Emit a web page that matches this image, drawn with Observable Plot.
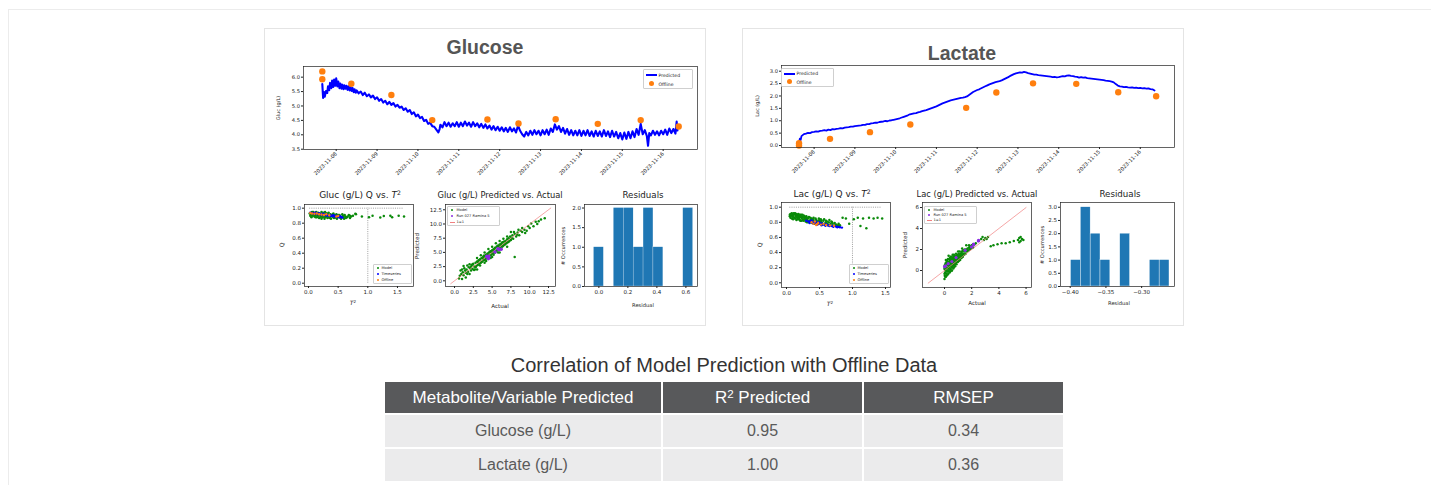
<!DOCTYPE html>
<html><head><meta charset="utf-8">
<script src="https://cdn.jsdelivr.net/npm/d3@7"></script>
<script src="https://cdn.jsdelivr.net/npm/@observablehq/plot@0.6"></script>
<style>
html,body{margin:0;padding:0;background:#fff;}
body{position:relative;width:1431px;height:485px;overflow:hidden;font-family:"Liberation Sans",Arial,sans-serif;}
#outer{position:absolute;left:8px;top:9px;width:1440px;height:500px;border-left:1.5px solid #ececec;border-top:1.5px solid #ececec;}
.panel{position:absolute;border:1px solid #e4e4e4;box-sizing:border-box;background:#fff;}
.t{position:absolute;white-space:nowrap;line-height:1;}
.lg{position:absolute;border:0.6px solid #cfcfcf;background:rgba(255,255,255,0.9);border-radius:1px;box-sizing:border-box;}
.cell{position:absolute;display:flex;align-items:center;justify-content:center;}
.cell span{white-space:nowrap;}
sup.s{font-size:0.68em;vertical-align:0.45em;line-height:0;}
</style></head><body>
<div id="outer"></div>
<div class="panel" style="left:264px;top:28px;width:442px;height:298px"></div>
<div class="panel" style="left:742px;top:28px;width:442px;height:298px"></div>
<script>
// ---------------- DATA ----------------
const dayTicks = [8, 9, 10, 11, 12, 13, 14, 15, 16];
// Glucose predicted time series [day of Nov 2023, g/L]
const gPred = [[7.66,5.76],[7.68,5.28],[7.70,5.48],[7.72,5.32],[7.75,5.52],[7.78,5.45],[7.80,5.68],[7.83,5.55],[7.85,5.80],[7.88,5.62],[7.90,5.88],[7.93,5.66],[7.95,5.92],[7.98,5.70],[8.00,5.96],[8.03,5.68],[8.05,5.85],[8.08,5.62],[8.10,5.78],[8.13,5.60],[8.15,5.74],[8.18,5.58],[8.20,5.72],[8.23,5.60],[8.25,5.70],[8.28,5.56],[8.30,5.68],[8.33,5.54],[8.35,5.66],[8.38,5.52],[8.40,5.62],[8.43,5.48],[8.45,5.58],[8.48,5.46],[8.50,5.54],[8.55,5.44],[8.60,5.50],[8.65,5.38],[8.70,5.46],[8.75,5.34],[8.80,5.40],[8.85,5.30],[8.90,5.36],[8.95,5.24],[9.00,5.30],[9.05,5.18],[9.10,5.24],[9.15,5.12],[9.20,5.18],[9.25,5.06],[9.30,5.14],[9.35,5.04],[9.40,5.10],[9.45,4.98],[9.50,5.04],[9.55,4.94],[9.60,4.98],[9.65,4.86],[9.70,4.92],[9.75,4.80],[9.80,4.86],[9.85,4.72],[9.90,4.78],[9.95,4.64],[10.00,4.70],[10.05,4.58],[10.10,4.62],[10.15,4.48],[10.20,4.52],[10.25,4.38],[10.30,4.42],[10.35,4.30],[10.40,4.28],[10.45,4.18],[10.50,4.08],[10.53,4.20],[10.55,4.35],[10.60,4.26],[10.65,4.44],[10.70,4.30],[10.75,4.42],[10.80,4.28],[10.85,4.40],[10.90,4.30],[10.95,4.44],[11.00,4.28],[11.05,4.42],[11.10,4.30],[11.15,4.46],[11.20,4.32],[11.25,4.42],[11.30,4.28],[11.35,4.44],[11.40,4.30],[11.45,4.40],[11.50,4.26],[11.55,4.38],[11.60,4.24],[11.65,4.36],[11.70,4.22],[11.75,4.32],[11.80,4.18],[11.85,4.30],[11.90,4.16],[11.95,4.28],[12.00,4.14],[12.05,4.26],[12.10,4.12],[12.15,4.24],[12.20,4.10],[12.25,4.26],[12.30,4.12],[12.35,4.22],[12.40,4.08],[12.45,4.32],[12.50,4.14],[12.55,4.02],[12.60,3.94],[12.65,4.10],[12.70,3.98],[12.75,4.14],[12.80,4.00],[12.85,4.16],[12.90,4.02],[12.95,4.14],[13.00,3.98],[13.05,4.16],[13.10,4.02],[13.15,4.18],[13.20,4.00],[13.25,4.22],[13.30,4.10],[13.35,4.36],[13.40,4.18],[13.45,4.30],[13.50,4.10],[13.55,4.24],[13.60,4.04],[13.65,4.20],[13.70,4.00],[13.75,4.16],[13.80,3.98],[13.85,4.14],[13.90,3.98],[13.95,4.16],[14.00,3.96],[14.05,4.14],[14.10,3.98],[14.15,4.16],[14.20,3.96],[14.25,4.12],[14.30,3.94],[14.35,4.14],[14.40,3.96],[14.45,4.12],[14.50,3.94],[14.55,4.16],[14.60,3.96],[14.65,4.12],[14.70,3.92],[14.75,4.14],[14.80,3.94],[14.85,4.10],[14.90,3.88],[14.95,4.06],[15.00,3.84],[15.05,4.08],[15.10,3.86],[15.15,4.10],[15.20,3.88],[15.25,4.12],[15.30,3.92],[15.35,4.20],[15.40,4.00],[15.45,4.38],[15.50,4.02],[15.55,4.16],[15.60,3.96],[15.63,3.62],[15.66,4.06],[15.70,3.98],[15.75,4.14],[15.80,4.00],[15.85,4.12],[15.90,3.98],[15.95,4.14],[16.00,4.02],[16.05,4.18],[16.10,4.00],[16.15,4.22],[16.20,4.06],[16.25,4.20],[16.30,4.04],[16.33,4.46],[16.35,4.15]];
const gOffT = [7.66, 7.66, 8.37, 9.35, 10.35, 11.70, 12.46, 13.37, 14.40, 15.45, 16.38];
const gOffV = [6.20, 5.93, 5.77, 5.38, 4.51, 4.53, 4.39, 4.54, 4.38, 4.51, 4.29];
const gRes  = [0.65, 0.41, 0.12, 0.32, 0.22, 0.27, 0.19, 0.35, 0.15, 0.60, -0.034];

// Lactate predicted time series
const lPred = [[7.63,0.12],[7.65,0.28],[7.67,0.22],[7.69,0.38],[7.72,0.42],[7.75,0.46],[7.80,0.48],[7.85,0.51],[7.90,0.50],[7.95,0.54],[8.00,0.55],[8.05,0.57],[8.10,0.56],[8.15,0.59],[8.20,0.60],[8.25,0.62],[8.30,0.60],[8.35,0.64],[8.40,0.62],[8.45,0.66],[8.50,0.65],[8.55,0.67],[8.60,0.68],[8.65,0.70],[8.70,0.69],[8.75,0.72],[8.80,0.73],[8.85,0.74],[8.90,0.76],[8.95,0.76],[9.00,0.78],[9.05,0.79],[9.10,0.80],[9.15,0.81],[9.20,0.83],[9.25,0.83],[9.30,0.86],[9.35,0.86],[9.40,0.89],[9.45,0.90],[9.50,0.92],[9.55,0.92],[9.60,0.95],[9.65,0.96],[9.70,0.97],[9.75,0.99],[9.80,0.98],[9.85,1.01],[9.90,1.02],[9.95,1.04],[10.00,1.06],[10.05,1.08],[10.10,1.10],[10.15,1.13],[10.20,1.16],[10.25,1.19],[10.30,1.22],[10.35,1.26],[10.40,1.28],[10.45,1.30],[10.50,1.31],[10.55,1.34],[10.60,1.36],[10.65,1.39],[10.70,1.41],[10.75,1.43],[10.80,1.46],[10.85,1.49],[10.90,1.52],[10.95,1.55],[11.00,1.58],[11.05,1.62],[11.10,1.66],[11.15,1.70],[11.20,1.73],[11.25,1.76],[11.30,1.79],[11.35,1.82],[11.40,1.84],[11.45,1.86],[11.50,1.88],[11.55,1.90],[11.60,1.92],[11.65,1.93],[11.70,1.95],[11.75,1.98],[11.80,2.04],[11.85,2.10],[11.90,2.16],[11.95,2.20],[12.00,2.24],[12.05,2.27],[12.10,2.31],[12.15,2.35],[12.20,2.39],[12.25,2.43],[12.30,2.47],[12.35,2.50],[12.40,2.53],[12.45,2.56],[12.50,2.58],[12.55,2.60],[12.60,2.63],[12.65,2.67],[12.70,2.71],[12.75,2.75],[12.80,2.80],[12.85,2.84],[12.90,2.88],[12.95,2.91],[13.00,2.93],[13.05,2.95],[13.10,2.94],[13.15,2.97],[13.20,2.95],[13.25,2.92],[13.30,2.90],[13.35,2.88],[13.40,2.86],[13.45,2.86],[13.50,2.84],[13.55,2.83],[13.60,2.82],[13.65,2.81],[13.70,2.80],[13.75,2.79],[13.80,2.78],[13.85,2.76],[13.90,2.77],[13.95,2.75],[14.00,2.76],[14.05,2.78],[14.10,2.80],[14.15,2.79],[14.20,2.82],[14.25,2.83],[14.30,2.81],[14.35,2.80],[14.40,2.78],[14.45,2.77],[14.50,2.74],[14.55,2.76],[14.60,2.74],[14.65,2.75],[14.70,2.72],[14.75,2.71],[14.80,2.70],[14.85,2.69],[14.90,2.68],[14.95,2.67],[15.00,2.66],[15.05,2.65],[15.10,2.64],[15.15,2.62],[15.20,2.61],[15.25,2.60],[15.30,2.58],[15.35,2.55],[15.40,2.48],[15.45,2.42],[15.50,2.39],[15.55,2.38],[15.60,2.36],[15.65,2.37],[15.70,2.35],[15.75,2.34],[15.80,2.35],[15.85,2.33],[15.90,2.34],[15.95,2.32],[16.00,2.33],[16.05,2.31],[16.10,2.32],[16.15,2.30],[16.20,2.31],[16.25,2.28],[16.30,2.27],[16.35,2.22]];
const lOffT = [7.63, 7.63, 8.39, 9.37, 10.36, 11.73, 12.47, 13.37, 14.43, 15.46, 16.39];
const lOffV = [0.09, 0.00, 0.27, 0.54, 0.85, 1.52, 2.14, 2.51, 2.49, 2.15, 1.99];
const lRes  = [-0.350, -0.362, -0.378, -0.320, -0.382, -0.399, -0.374, -0.367, -0.325, -0.282, -0.261];

// Q vs T^2 [T2, Q]
const gQModel = [[0.02,0.93],[0.04,0.91],[0.05,0.94],[0.07,0.90],[0.08,0.92],[0.10,0.89],[0.11,0.93],[0.12,0.91],[0.14,0.88],[0.15,0.92],[0.17,0.90],[0.18,0.87],[0.20,0.91],[0.21,0.89],[0.23,0.93],[0.24,0.88],[0.26,0.90],[0.27,0.86],[0.29,0.92],[0.30,0.89],[0.32,0.87],[0.33,0.91],[0.35,0.88],[0.36,0.90],[0.38,0.86],[0.40,0.89],[0.41,0.92],[0.43,0.87],[0.45,0.90],[0.46,0.88],[0.48,0.86],[0.50,0.89],[0.52,0.91],[0.54,0.87],[0.56,0.88],[0.58,0.90],[0.60,0.86],[0.62,0.89],[0.65,0.88],[0.68,0.91],[0.72,0.89],[0.75,0.90],[0.80,0.92],[0.06,0.95],[0.09,0.94],[0.13,0.95],[0.16,0.94],[0.19,0.93],[0.22,0.95],[0.25,0.94],[0.28,0.95],[0.31,0.93],[0.34,0.94],[0.37,0.92],[0.42,0.93],[0.47,0.92],[0.53,0.90],[0.57,0.92],[0.63,0.87],[0.70,0.90],[0.79,0.925],[0.90,0.89],[1.02,0.88],[1.08,0.90],[1.21,0.875],[1.27,0.895],[1.38,0.90],[1.41,0.88],[1.52,0.90],[1.61,0.89],[0.03,0.90],[0.05,0.88],[0.08,0.95],[0.10,0.91],[0.12,0.88],[0.15,0.90],[0.18,0.92],[0.20,0.88],[0.22,0.86],[0.25,0.91],[0.28,0.88],[0.30,0.93],[0.33,0.88],[0.36,0.87],[0.39,0.90],[0.42,0.88],[0.44,0.91],[0.47,0.87],[0.50,0.91],[0.53,0.88],[0.55,0.86],[0.59,0.88],[0.61,0.91],[0.66,0.89],[0.70,0.87]];
const gQTime = [[0.03,0.94],[0.05,0.935],[0.07,0.93],[0.09,0.935],[0.11,0.93],[0.13,0.925],[0.15,0.93],[0.17,0.92],[0.19,0.925],[0.21,0.915],[0.23,0.92],[0.25,0.91],[0.27,0.915],[0.29,0.905],[0.31,0.91],[0.33,0.90],[0.35,0.905],[0.37,0.90],[0.39,0.895],[0.41,0.90],[0.43,0.89],[0.45,0.895],[0.47,0.885],[0.49,0.89],[0.51,0.88],[0.53,0.885],[0.55,0.88],[0.57,0.875],[0.12,0.94],[0.18,0.93],[0.24,0.925],[0.30,0.92],[0.36,0.91],[0.42,0.905],[0.48,0.90],[0.54,0.89]];
const gQOff = [[0.03,0.935],[0.06,0.93],[0.10,0.925],[0.14,0.93],[0.18,0.92],[0.22,0.915],[0.26,0.91],[0.30,0.92],[0.35,0.905],[0.47,0.89],[0.50,0.895]];
const lQModel = [[0.05,0.90],[0.06,0.86],[0.08,0.92],[0.09,0.88],[0.10,0.84],[0.11,0.90],[0.12,0.86],[0.13,0.92],[0.14,0.88],[0.15,0.83],[0.16,0.90],[0.17,0.86],[0.18,0.91],[0.19,0.84],[0.20,0.88],[0.21,0.82],[0.22,0.90],[0.23,0.85],[0.24,0.87],[0.25,0.83],[0.26,0.89],[0.27,0.84],[0.28,0.86],[0.29,0.81],[0.30,0.88],[0.31,0.83],[0.32,0.85],[0.33,0.80],[0.34,0.87],[0.35,0.82],[0.37,0.84],[0.39,0.79],[0.41,0.86],[0.43,0.81],[0.45,0.83],[0.47,0.78],[0.49,0.85],[0.51,0.80],[0.53,0.82],[0.55,0.77],[0.57,0.84],[0.59,0.79],[0.61,0.81],[0.63,0.76],[0.65,0.83],[0.67,0.78],[0.69,0.80],[0.71,0.75],[0.73,0.79],[0.75,0.77],[0.77,0.74],[0.79,0.78],[0.81,0.76],[0.07,0.89],[0.12,0.91],[0.17,0.89],[0.22,0.87],[0.27,0.88],[0.36,0.86],[0.44,0.85],[0.52,0.84],[0.60,0.82],[0.68,0.81],[0.85,0.86],[0.90,0.85],[0.95,0.78],[1.02,0.84],[1.08,0.86],[1.12,0.75],[1.16,0.85],[1.21,0.72],[1.25,0.86],[1.32,0.85],[1.38,0.86],[1.45,0.85],[0.05,0.88],[0.06,0.91],[0.08,0.85],[0.09,0.90],[0.10,0.87],[0.11,0.92],[0.13,0.85],[0.14,0.90],[0.15,0.87],[0.16,0.84],[0.18,0.88],[0.19,0.86],[0.20,0.83],[0.21,0.89],[0.23,0.82],[0.24,0.90],[0.25,0.86],[0.26,0.82],[0.28,0.84],[0.29,0.87],[0.30,0.84],[0.31,0.80],[0.33,0.86],[0.34,0.82],[0.36,0.80],[0.38,0.85],[0.40,0.82],[0.42,0.78],[0.44,0.83],[0.46,0.80],[0.48,0.82],[0.50,0.78],[0.52,0.81],[0.54,0.79],[0.56,0.82],[0.58,0.77],[0.60,0.80],[0.62,0.78],[0.64,0.80],[0.66,0.76],[0.70,0.78],[0.74,0.76],[0.78,0.76],[0.80,0.74],[0.10,0.91],[0.15,0.91],[0.20,0.90],[0.30,0.86],[0.40,0.84],[0.50,0.83]];
const lQTime = [[0.30,0.82],[0.33,0.81],[0.36,0.815],[0.39,0.80],[0.42,0.805],[0.45,0.79],[0.48,0.795],[0.51,0.78],[0.54,0.785],[0.57,0.77],[0.60,0.775],[0.63,0.76],[0.66,0.765],[0.69,0.75],[0.72,0.755],[0.75,0.745],[0.78,0.74],[0.81,0.735],[0.84,0.73],[0.35,0.79],[0.41,0.78],[0.47,0.77],[0.53,0.76],[0.59,0.755],[0.65,0.75],[0.71,0.74],[0.77,0.735],[0.38,0.825],[0.44,0.81],[0.50,0.80]];
const lQOff = [[0.38,0.80],[0.41,0.78],[0.43,0.81],[0.46,0.775],[0.48,0.79],[0.52,0.77],[0.56,0.78],[0.60,0.765],[0.66,0.76],[0.72,0.755],[0.45,0.765]];
const qLimit = [1.0], t2Limit = [1.0];

// Predicted vs actual [actual, predicted]
const gPAModel = [[0.6,0.4],[0.8,1.8],[1.0,0.3],[1.0,2.0],[1.2,1.0],[1.3,2.2],[1.5,0.6],[1.5,1.4],[1.6,2.0],[1.8,1.6],[1.9,2.4],[2.0,1.2],[2.0,2.9],[2.1,2.2],[2.2,1.8],[2.3,2.8],[2.4,2.1],[2.5,3.0],[2.6,2.5],[2.7,2.0],[2.8,3.2],[2.9,2.6],[3.0,2.0],[3.0,3.4],[3.0,4.0],[3.1,2.8],[3.2,3.6],[3.3,3.0],[3.4,3.8],[3.5,3.2],[3.5,4.5],[3.6,4.0],[3.7,3.4],[3.8,4.2],[3.9,3.6],[4.0,3.2],[4.0,4.4],[4.0,5.0],[4.1,3.8],[4.2,4.6],[4.3,4.0],[4.4,4.8],[4.5,4.2],[4.5,5.6],[4.6,5.0],[4.7,4.4],[4.8,5.2],[4.9,4.6],[5.0,4.2],[5.0,5.4],[5.0,6.0],[5.1,4.8],[5.2,5.6],[5.3,5.0],[5.4,5.8],[5.5,5.2],[5.5,6.6],[5.6,6.0],[5.7,5.4],[5.8,6.2],[5.9,5.6],[6.0,5.0],[6.0,6.4],[6.0,7.0],[6.1,5.8],[6.2,6.5],[6.3,6.0],[6.4,6.8],[6.5,6.2],[6.5,7.4],[6.6,6.9],[6.7,6.4],[6.8,7.0],[6.9,6.6],[7.0,6.0],[7.0,7.3],[7.1,6.8],[7.2,7.5],[7.3,7.0],[7.4,7.8],[7.5,7.2],[7.5,8.6],[7.7,8.0],[7.8,7.4],[8.0,4.2],[8.0,8.3],[8.2,7.8],[8.4,8.5],[8.6,8.0],[8.8,8.8],[9.0,8.6],[9.3,9.0],[9.6,8.8],[10.0,9.3],[10.5,9.6],[11.0,10.0],[11.5,10.8],[12.0,11.0],[1.1,1.5],[1.4,1.8],[1.7,1.2],[2.2,2.5],[2.4,2.9],[2.6,1.9],[2.8,2.4],[3.1,3.3],[3.3,3.6],[3.4,2.7],[3.6,3.3],[3.8,3.9],[3.9,4.4],[4.1,4.2],[4.2,3.5],[4.3,4.6],[4.4,4.1],[4.6,4.6],[4.7,5.1],[4.8,4.0],[4.9,5.0],[5.1,5.3],[5.2,4.6],[5.3,5.6],[5.4,5.0],[5.6,5.4],[5.7,6.1],[5.8,5.0],[5.9,6.0],[6.1,6.3],[6.2,5.6],[6.3,6.7],[6.4,6.1],[6.6,6.4],[6.8,6.6],[7.0,7.8],[7.2,6.9],[7.6,7.6],[7.9,8.6],[8.3,8.1],[8.5,9.0],[9.0,9.3],[9.4,8.4],[9.8,9.6],[10.2,10.1],[10.8,10.4],[11.2,10.5],[0.9,1.2],[1.2,2.6],[1.7,2.7],[0.7,0.9]];
const lPAModel = [[0.0,-0.8],[0.02,-0.5],[0.05,-0.2],[0.03,0.1],[0.06,0.4],[0.08,0.7],[0.1,-0.6],[0.12,-0.3],[0.15,0.0],[0.14,0.3],[0.18,0.6],[0.2,0.9],[0.22,-0.4],[0.25,-0.1],[0.28,0.2],[0.3,0.5],[0.32,0.8],[0.35,1.1],[0.38,-0.2],[0.4,0.1],[0.42,0.4],[0.45,0.7],[0.48,1.0],[0.5,1.3],[0.52,0.0],[0.55,0.3],[0.58,0.6],[0.6,0.9],[0.62,1.2],[0.65,0.2],[0.68,0.5],[0.7,0.8],[0.72,1.1],[0.75,1.4],[0.78,0.4],[0.8,0.7],[0.82,1.0],[0.85,1.3],[0.88,0.6],[0.9,0.9],[0.92,1.2],[0.95,1.5],[0.98,0.8],[1.0,1.1],[1.02,1.4],[1.05,0.9],[1.08,1.2],[1.1,1.5],[1.12,1.8],[1.15,1.0],[1.18,1.3],[1.2,1.6],[1.25,1.2],[1.28,1.5],[1.3,1.8],[1.35,1.3],[1.38,1.6],[1.4,1.9],[1.45,1.5],[1.5,1.8],[1.55,1.6],[1.6,2.0],[1.65,1.8],[1.7,2.1],[1.75,1.9],[1.8,2.2],[1.85,2.0],[1.9,2.3],[1.95,2.1],[2.0,2.4],[2.1,2.2],[2.2,2.5],[0.1,1.0],[0.3,1.4],[0.6,1.5],[1.0,1.8],[1.3,2.1],[1.6,2.4],[2.3,2.6],[2.5,2.8],[2.7,3.0],[2.8,3.2],[2.9,2.9],[3.0,3.1],[3.1,3.0],[3.2,3.2],[3.4,2.3],[3.6,2.4],[3.9,2.5],[4.2,2.6],[4.5,2.6],[4.8,2.7],[5.1,2.8],[5.4,2.9],[5.5,3.1],[5.6,2.8],[5.7,3.0],[5.8,2.9],[5.6,3.2],[5.5,2.7],[0.0,-0.3],[0.0,0.2],[0.02,0.5],[0.05,-0.6],[0.08,0.0],[0.1,0.3],[0.12,0.6],[0.15,-0.5],[0.18,-0.1],[0.2,0.2],[0.22,0.5],[0.25,0.8],[0.28,-0.3],[0.3,0.0],[0.32,0.3],[0.35,0.6],[0.38,0.9],[0.4,1.2],[0.42,-0.1],[0.45,0.2],[0.48,0.5],[0.5,0.8],[0.52,1.1],[0.55,0.0],[0.58,0.4],[0.6,0.7],[0.62,1.0],[0.65,1.3],[0.68,0.3],[0.7,0.6],[0.72,0.9],[0.75,1.2],[0.78,0.6],[0.8,1.0],[0.82,1.3],[0.85,0.8],[0.88,1.1],[0.9,1.4],[0.95,1.0],[1.0,1.3],[1.05,1.6],[1.1,1.1],[1.15,1.4],[1.2,1.3],[1.25,1.7],[1.3,1.5],[1.35,1.9],[1.4,1.6],[1.5,2.0],[1.55,1.9],[1.7,1.9],[1.8,2.4],[1.9,2.1],[2.0,2.2],[2.1,2.5],[0.15,0.8],[0.25,1.1],[0.45,1.3],[0.7,1.5],[0.85,1.6]];
const gOneToOne = [-0.5, 12.8];
const lOneToOne = [-1.2, 6.0];

// Table
const tableTitle = "Correlation of Model Prediction with Offline Data";
const tableHeader = ["Metabolite/Variable Predicted", "R<sup class='s'>2</sup> Predicted", "RMSEP"];
const tableMetabolites = ["Glucose (g/L)", "Lactate (g/L)"];
const tableR2 = ["0.95", "1.00"];
const tableRMSEP = ["0.34", "0.36"];

// ---------------- HELPERS ----------------
const BLUE = "#0000ff", ORANGE = "#ff7f0e", GREEN = "#0a8a0a", PURPLE = "#8a2be2", HIST = "#1f77b4";
const f1 = d3.format(".1f");
function chart(fr, m, xs, ys, marks, fs) {
  const [x0, y0, x1, y1] = fr;
  const svg = Plot.plot({
    width: x1 - x0 + m[0] + m[1], height: y1 - y0 + m[2] + m[3],
    marginLeft: m[0], marginRight: m[1], marginTop: m[2], marginBottom: m[3],
    style: {fontFamily: "DejaVu Sans", fontSize: fs + "px", color: "#222", background: "transparent", overflow: "visible"},
    x: Object.assign({label: null, tickSize: 2, tickPadding: 1.5}, xs),
    y: Object.assign({label: null, tickSize: 2, tickPadding: 1.5}, ys),
    marks: [...marks, Plot.frame({stroke: "#222", strokeWidth: 0.7})]
  });
  svg.style.position = "absolute";
  svg.style.left = (x0 - m[0]) + "px";
  svg.style.top = (y0 - m[2]) + "px";
  document.body.appendChild(svg);
}
function txt(html, x, y, o = {}) {
  const d = document.createElement("div");
  d.className = "t";
  d.innerHTML = html;
  d.style.left = x + "px"; d.style.top = y + "px";
  d.style.transform = "translate(-50%,-50%)" + (o.rot ? ` rotate(${o.rot}deg)` : "");
  d.style.font = `${o.w || "normal"} ${o.size || 5}px ${o.font || "'DejaVu Sans'"}`;
  d.style.color = o.c || "#222";
  document.body.appendChild(d);
}
function legend(x, y, w, h, rows, fs) {
  const box = document.createElement("div");
  box.className = "lg";
  box.style.cssText += `left:${x}px;top:${y}px;width:${w}px;height:${h}px;`;
  document.body.appendChild(box);
  const n = rows.length, step = (h - 2) / n;
  rows.forEach((r, i) => {
    const cy = y + 1 + step * (i + 0.5);
    const sw = document.createElement("div");
    sw.style.position = "absolute";
    if (r.type === "line") {
      sw.style.cssText += `left:${x + 2.5}px;top:${Math.round(cy - r.lw / 2)}px;width:${r.len}px;height:${r.lw}px;background:${r.c};`;
    } else {
      sw.style.cssText += `left:${x + 2.5 + r.len / 2 - r.s / 2}px;top:${cy - r.s / 2}px;width:${r.s}px;height:${r.s}px;border-radius:50%;background:${r.c};`;
    }
    document.body.appendChild(sw);
    const t = document.createElement("div");
    t.className = "t";
    t.textContent = r.label;
    t.style.cssText += `left:${x + 4.5 + r.len}px;top:${cy}px;transform:translateY(-50%);font:${fs}px 'DejaVu Sans';color:#222;`;
    document.body.appendChild(t);
  });
}
function hist(vals) {
  const ext = d3.extent(vals), w = (ext[1] - ext[0]) / 10;
  return d3.bin().domain(ext).thresholds(d3.range(1, 10).map(i => ext[0] + i * w))(vals);
}
const px = d => d[0], py = d => d[1];
const dateFmt = d => `2023-11-${String(d).padStart(2, "0")}`;

// ---------------- TOP TIME SERIES ----------------
chart([303, 66, 697, 149], [26, 6, 4, 40],
  {domain: [7.2, 16.84], ticks: dayTicks, tickFormat: dateFmt, tickRotate: -45},
  {domain: [3.49, 6.37], ticks: [3.5, 4.0, 4.5, 5.0, 5.5, 6.0], tickFormat: f1},
  [Plot.line(gPred, {x: px, y: py, stroke: BLUE, strokeWidth: 2.1}),
   Plot.dot(gOffV, {x: (d, i) => gOffT[i], y: d => d, r: 3.2, fill: ORANGE, stroke: null})], 5.2);
chart([781, 65, 1174, 147], [26, 6, 4, 40],
  {domain: [7.2, 16.84], ticks: dayTicks, tickFormat: dateFmt, tickRotate: -45},
  {domain: [-0.08, 3.23], ticks: [0, 0.5, 1, 1.5, 2, 2.5, 3], tickFormat: f1},
  [Plot.line(lPred, {x: px, y: py, stroke: BLUE, strokeWidth: 1.8}),
   Plot.dot(lOffV, {x: (d, i) => lOffT[i], y: d => d, r: 3.2, fill: ORANGE, stroke: null})], 5.2);

// ---------------- Q vs T2 ----------------
function qChart(fr, xd, yd, model, time, off) {
  const t2 = model.map(px);
  chart(fr, [18, 3, 3, 10],
    {domain: xd, ticks: [0, 0.5, 1, 1.5], tickFormat: f1},
    {domain: yd, ticks: [0, 0.2, 0.4, 0.6, 0.8, 1.0], tickFormat: f1},
    [Plot.ruleY(qLimit, {x1: d3.min(t2), x2: d3.max(t2), stroke: "#777", strokeWidth: 0.7, strokeDasharray: "1,1.2"}),
     Plot.ruleX(t2Limit, {y1: 0, y2: qLimit[0], stroke: "#777", strokeWidth: 0.7, strokeDasharray: "1,1.2"}),
     Plot.dot(model, {x: px, y: py, r: 1.25, fill: GREEN, stroke: null}),
     Plot.dot(time, {x: px, y: py, r: 1.2, fill: BLUE, stroke: null}),
     Plot.dot(off, {x: px, y: py, r: 1.2, fill: ORANGE, stroke: null})], 5.5);
}
qChart([304, 204, 413, 286], [-0.067, 1.77], [-0.044, 1.049], gQModel, gQTime, gQOff);
qChart([781, 202, 890, 287], [-0.076, 1.576], [-0.062, 1.062], lQModel, lQTime, lQOff);

// ---------------- Predicted vs Actual ----------------
chart([445, 204, 555, 286], [18, 3, 3, 10],
  {domain: [-1.2, 13.43], ticks: [0, 2.5, 5, 7.5, 10, 12.5], tickFormat: f1},
  {domain: [-1.0, 13.43], ticks: [0, 2.5, 5, 7.5, 10, 12.5], tickFormat: f1},
  [Plot.dot(gPAModel, {x: px, y: py, r: 1.25, fill: GREEN, stroke: null}),
   Plot.line(gOneToOne, {x: d => d, y: d => d, stroke: "#f08080", strokeWidth: 0.7}),
   Plot.dot(gOffV, {x: d => d, y: (d, i) => d - gRes[i], r: 1.8, fill: PURPLE, stroke: null})], 5.5);
chart([922, 202, 1031, 287], [18, 3, 3, 10],
  {domain: [-1.62, 6.4], ticks: [0, 2, 4, 6], tickFormat: d3.format("d")},
  {domain: [-1.62, 6.48], ticks: [0, 2, 4, 6], tickFormat: d3.format("d")},
  [Plot.dot(lPAModel, {x: px, y: py, r: 1.25, fill: GREEN, stroke: null}),
   Plot.line(lOneToOne, {x: d => d, y: d => d, stroke: "#f08080", strokeWidth: 0.7}),
   Plot.dot(lOffV, {x: d => d, y: (d, i) => d - lRes[i], r: 1.6, fill: PURPLE, stroke: null})], 5.5);

// ---------------- Residual histograms ----------------
chart([584, 204, 697, 286], [18, 3, 3, 10],
  {domain: [-0.099, 0.68], ticks: [0, 0.2, 0.4, 0.6], tickFormat: f1},
  {domain: [0, 2.09], ticks: [0, 0.5, 1, 1.5, 2], tickFormat: f1},
  [Plot.rect(hist(gRes), {x1: d => d.x0, x2: d => d.x1, y1: 0, y2: d => d.length, fill: HIST, stroke: "#fff", strokeWidth: 0.25})], 5.5);
chart([1060, 202, 1174, 286], [18, 3, 3, 10],
  {domain: [-0.4136, -0.254], ticks: [-0.40, -0.35, -0.30], tickFormat: d => d.toFixed(2).replace("-", "\u2212")},
  {domain: [0, 3.18], ticks: [0, 0.5, 1, 1.5, 2, 2.5, 3], tickFormat: f1},
  [Plot.rect(hist(lRes), {x1: d => d.x0, x2: d => d.x1, y1: 0, y2: d => d.length, fill: HIST, stroke: "#fff", strokeWidth: 0.4})], 5.5);

// ---------------- TEXT ----------------
txt("Glucose", 485, 47, {size: 19.5, w: "bold", font: "'Liberation Sans',Arial", c: "#555"});
txt("Lactate", 962, 53, {size: 19.5, w: "bold", font: "'Liberation Sans',Arial", c: "#555"});
txt("Gluc (g/L)", 278, 108, {size: 5, rot: -90});
txt("Lac (g/L)", 757, 106, {size: 5, rot: -90});
const T2 = "<i>T</i><sup class='s'>2</sup>";
txt("Gluc (g/L) Q vs. " + T2, 360, 195, {size: 9});
txt("Gluc (g/L) Predicted vs. Actual", 500, 195, {size: 8.3});
txt("Residuals", 643, 195, {size: 8.7});
txt("Lac (g/L) Q vs. " + T2, 832, 194, {size: 9});
txt("Lac (g/L) Predicted vs. Actual", 977, 194, {size: 8.3});
txt("Residuals", 1120, 194, {size: 8.7});
txt("Q", 281, 245, {size: 6, rot: -90});
txt("Q", 759, 245, {size: 6, rot: -90});
txt(T2, 353, 302, {size: 6});
txt(T2, 830, 303, {size: 6});
txt("Predicted", 417, 246, {size: 5.5, rot: -90});
txt("Predicted", 905, 245, {size: 5.5, rot: -90});
txt("Actual", 500, 306, {size: 5.6});
txt("Actual", 977, 303, {size: 5.6});
txt("# Occurrences", 563, 246, {size: 5.2, rot: -90});
txt("# Occurrences", 1042, 245, {size: 5.2, rot: -90});
txt("Residual", 643, 305, {size: 5.2});
txt("Residual", 1119, 303, {size: 5.2});

// Legends
legend(643, 69, 50, 20, [
  {type: "line", c: BLUE, lw: 1.5, len: 11, label: "Predicted"},
  {type: "dot", c: ORANGE, s: 5, len: 11, label: "Offline"}], 4.6);
legend(781, 68, 53, 19, [
  {type: "line", c: BLUE, lw: 1.5, len: 11, label: "Predicted"},
  {type: "dot", c: ORANGE, s: 5, len: 11, label: "Offline"}], 4.6);
const qRows = [
  {type: "dot", c: GREEN, s: 2, len: 4, label: "Model"},
  {type: "dot", c: BLUE, s: 2, len: 4, label: "Timeseries"},
  {type: "dot", c: ORANGE, s: 2, len: 4, label: "Offline"}];
legend(373, 264, 39, 20, qRows, 3.6);
legend(849, 264, 40, 20, qRows, 3.6);
const paRows = [
  {type: "dot", c: GREEN, s: 2, len: 5, label: "Model"},
  {type: "dot", c: PURPLE, s: 2.2, len: 5, label: "Run 027 Ramina 5"},
  {type: "line", c: "#f08080", lw: 0.6, len: 5, label: "1=1"}];
legend(447, 206, 53, 20, paRows, 3.6);
legend(924, 206, 53, 18, paRows, 3.6);

// ---------------- TABLE ----------------
txt(tableTitle, 724, 365, {size: 20, font: "'Liberation Sans',Arial", c: "#333"});
const colX = [[385, 661], [663, 862], [864, 1063]];
const rowY = [[382, 413], [415, 447], [449, 481]];
const rows = [tableHeader, ...tableMetabolites.map((m, i) => [m, tableR2[i], tableRMSEP[i]])];
rows.forEach((r, ri) => r.forEach((v, ci) => {
  const c = document.createElement("div");
  c.className = "cell";
  c.innerHTML = `<span>${v}</span>`;
  c.style.left = colX[ci][0] + "px"; c.style.width = (colX[ci][1] - colX[ci][0]) + "px";
  c.style.top = rowY[ri][0] + "px"; c.style.height = (rowY[ri][1] - rowY[ri][0]) + "px";
  c.style.background = ri === 0 ? "#58595b" : "#ebebec";
  c.style.color = ri === 0 ? "#fff" : "#5a5a5a";
  c.style.fontSize = ri === 0 ? "17px" : "16px";
  document.body.appendChild(c);
}));
</script></body></html>
